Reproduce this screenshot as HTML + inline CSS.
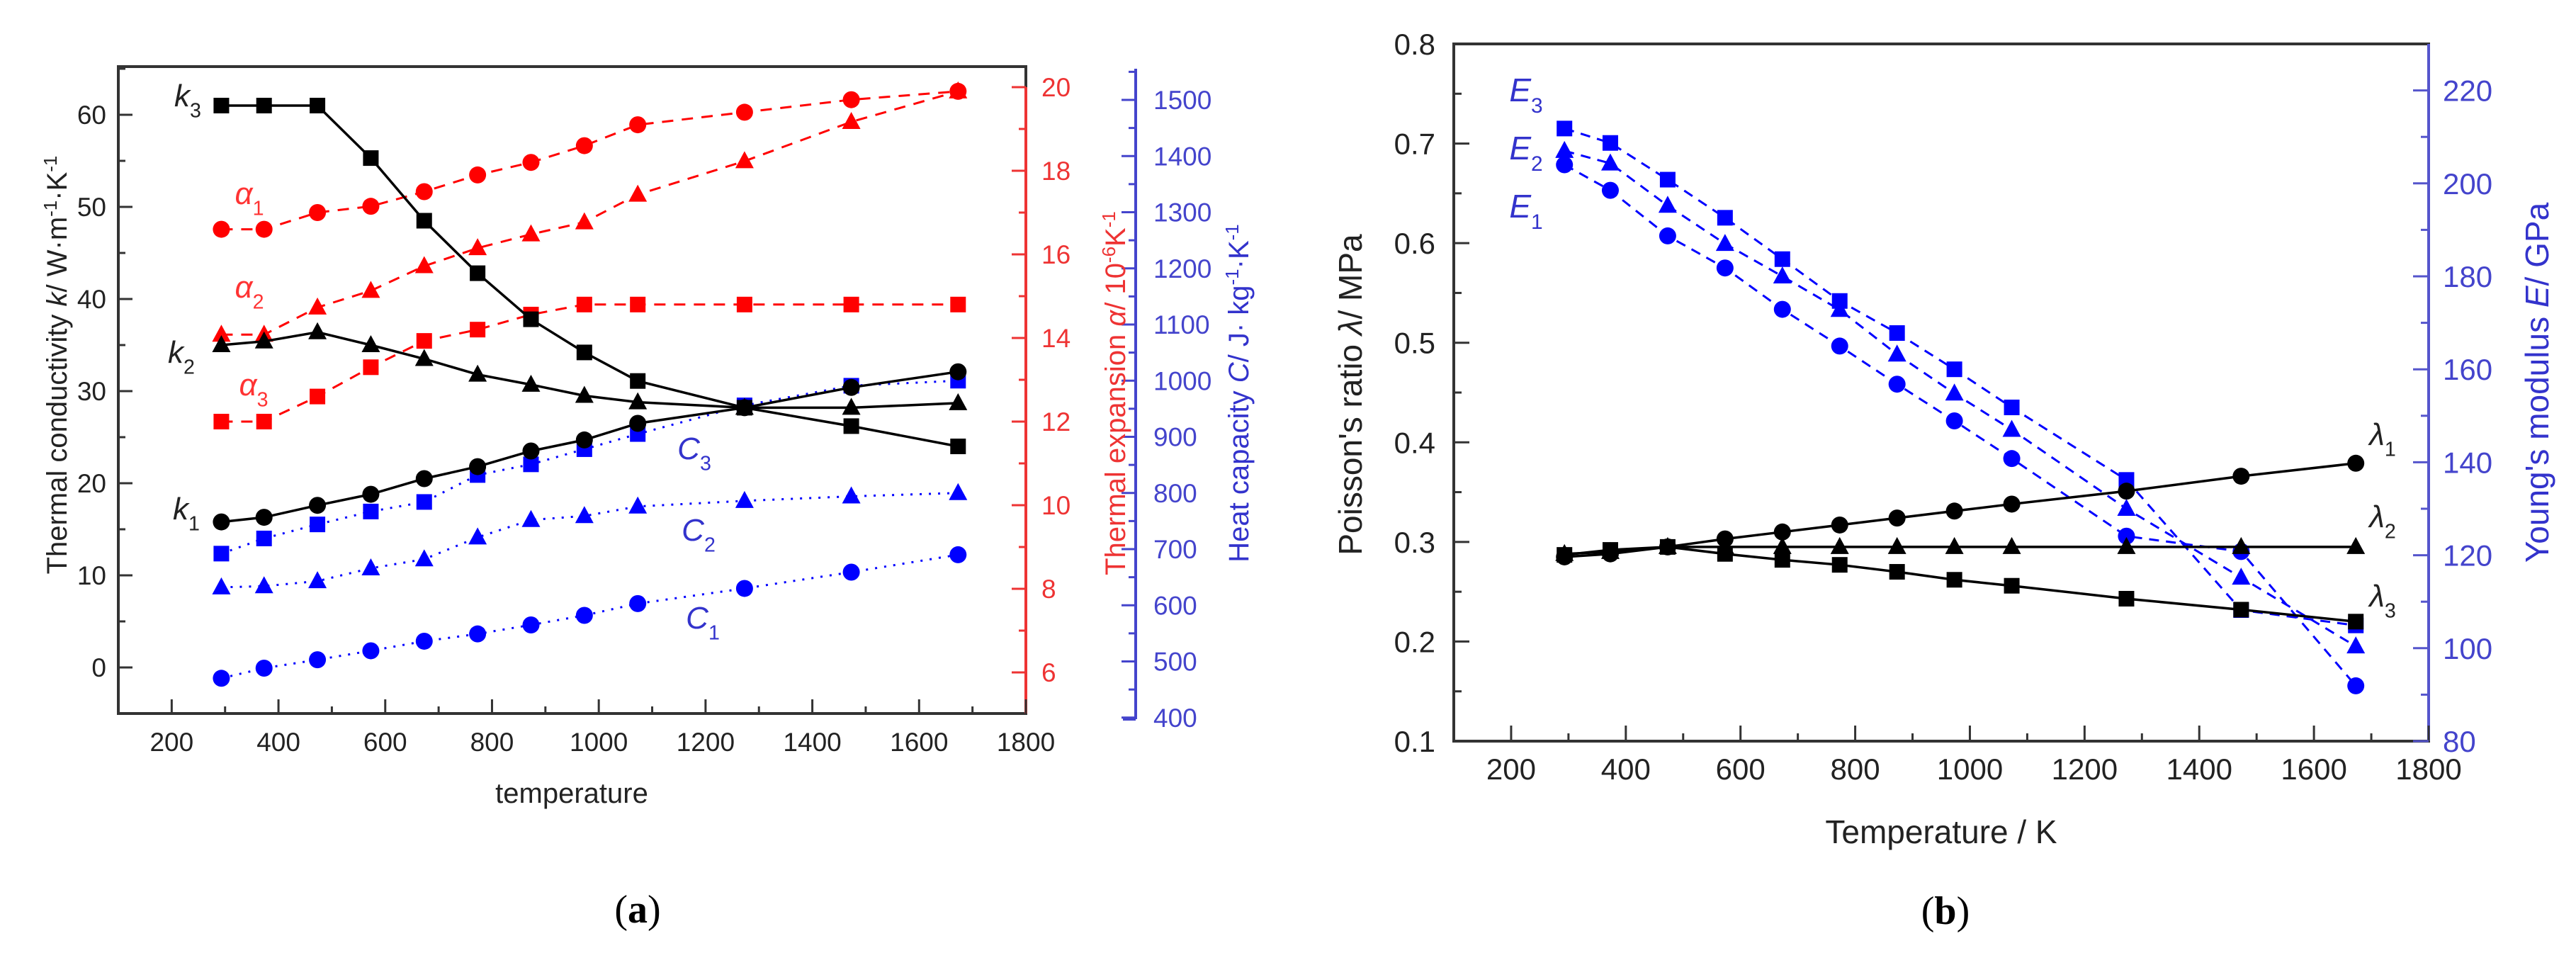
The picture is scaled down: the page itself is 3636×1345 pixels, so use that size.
<!DOCTYPE html>
<html><head><meta charset="utf-8">
<style>
html,body{margin:0;padding:0;background:#fff;}
svg{display:block;font-family:"Liberation Sans",Arial,sans-serif;}
</style></head>
<body>
<svg id="fig" width="3636" height="1345" viewBox="0 0 3636 1345" xmlns="http://www.w3.org/2000/svg">
<g id="pa"></g>
<g id="pb"></g>
</svg>
<script>
// ---------- shared data ----------
const temps = [293,373,473,573,673,773,873,973,1073,1273,1473,1673];
// panel a
const k1 = [15.8,16.3,17.6,18.8,20.5,21.8,23.5,24.7,26.5,28.2,30.4,32.1];
const k2 = [35,35.4,36.4,35,33.5,31.8,30.7,29.5,28.8,28.2,28.2,28.7];
const k3 = [61,61,61,55.3,48.5,42.8,37.8,34.2,31.1,28.2,26.2,24];
const a1 = [16.6,16.6,17.0,17.15,17.5,17.9,18.2,18.6,19.1,19.4,19.7,19.9];
const a2 = [14.08,14.08,14.73,15.13,15.72,16.15,16.48,16.77,17.43,18.23,19.17,19.9];
const a3 = [12.0,12.0,12.6,13.3,13.93,14.2,14.56,14.8,14.8,14.8,14.8,14.8];
const c1 = [470,488,503,519,536,549,565,582,603,630,659,690];
const c2 = [632,634,643,666,682,721,752,759,776,786,794,800];
const c3 = [692,719,744,767,784,832,851,878,905,956,991,1000];
const xTicksA = [200,400,600,800,1000,1200,1400,1600,1800];
const kTicks = [0,10,20,30,40,50,60];
const aTicks = [6,8,10,12,14,16,18,20];
const cTicks = [400,500,600,700,800,900,1000,1100,1200,1300,1400,1500];
// panel b
const lam1 = [0.285,0.288,0.295,0.303,0.310,0.317,0.324,0.331,0.338,0.351,0.366,0.379];
const lam2 = [0.288,0.290,0.295,0.295,0.295,0.295,0.295,0.295,0.295,0.295,0.295,0.295];
const lam3 = [0.287,0.292,0.295,0.288,0.282,0.277,0.270,0.262,0.256,0.243,0.232,0.220];
const e1 = [204,198.5,188.7,181.8,172.9,165,156.8,148.9,140.8,124.1,120.8,91.9];
const e2 = [207,204.3,195.2,187,180,172.8,163.2,154.8,147,130,115.2,100.4];
const e3 = [211.8,208.7,200.8,192.6,183.7,174.7,167.8,160.0,151.8,136.2,108.2,104.9];
const xTicksB = [200,400,600,800,1000,1200,1400,1600,1800];
const lTicks = [0.1,0.2,0.3,0.4,0.5,0.6,0.7,0.8];
const eTicks = [80,100,120,140,160,180,200,220];

const NS="http://www.w3.org/2000/svg";
function mk(parent,tag,attrs,text){const e=document.createElementNS(NS,tag);for(const k in attrs)e.setAttribute(k,attrs[k]);if(text!==undefined)e.textContent=text;parent.appendChild(e);return e;}

// axis functions
const axA={x0:167,x1:1448,y0:94,y1:1007};
const xA=v=>axA.x0+(v-100)*(axA.x1-axA.x0)/1700;
const yK=v=>942-13*v;
const yAl=v=>123+(20-v)*59;
const yC=v=>141+(1500-v)*0.7925;
const axB={x0:2052,x1:3428,y0:62,y1:1046};
const xB=v=>axB.x0+(v-100)*(axB.x1-axB.x0)/1700;
const yL=v=>axB.y0+(0.8-v)*(axB.y1-axB.y0)/0.7;
const yE=v=>axB.y1-(v-80)*(axB.y1-axB.y0)/150;

function marker(g,shape,x,y,color,name){
  let m;
  if(shape==='sq') m=mk(g,'rect',{x:x-11,y:y-11,width:22,height:22,fill:color});
  else if(shape==='ci') m=mk(g,'circle',{cx:x,cy:y,r:12,fill:color});
  else m=mk(g,'polygon',{points:`${x},${y-14} ${x-13},${y+10} ${x+13},${y+10}`,fill:color});
  
  
}
function series(g,vals,xf,yf,shape,color,dash,w,name){
  const sg=mk(g,'g',{});
  
  
  const pts=temps.map((t,i)=>xf(t)+','+yf(vals[i])).join(' ');
  const pl=mk(sg,'polyline',{points:pts,fill:'none',stroke:color,'stroke-width':w,'stroke-dasharray':dash});
  
  
  temps.forEach((t,i)=>marker(sg,shape,xf(t),yf(vals[i]),color,name+'-point'));
}
function label(g,x,y,main,sub,color,size,name,italic){
  const t=mk(g,'text',{x:x,y:y,fill:color,'font-size':size,'font-style':italic?'italic':'normal','text-anchor':'middle'});
  
  
  mk(t,'tspan',{},main);
  mk(t,'tspan',{dy:size*0.35,'font-size':size*0.65,'font-style':'normal'},sub);
}

// ---------- panel a ----------
const ga=document.getElementById('pa');
mk(ga,'rect',{x:axA.x0,y:axA.y0,width:axA.x1-axA.x0,height:axA.y1-axA.y0,fill:'none',stroke:'#333','stroke-width':4});
mk(ga,'line',{x1:axA.x1,y1:yAl(20),x2:axA.x1,y2:axA.y1,stroke:'#e33','stroke-width':4});
mk(ga,'line',{x1:1603,y1:97,x2:1603,y2:1015,stroke:'#44c','stroke-width':4});
mk(ga,'line',{x1:1585,y1:1015,x2:1603,y2:1015,stroke:'#44c','stroke-width':4});
let t;
xTicksA.forEach(v=>{t=mk(ga,'text',{x:xA(v),y:1060,'font-size':37,fill:'#222','text-anchor':'middle'},String(v));
  mk(ga,'line',{x1:xA(v),y1:axA.y1,x2:xA(v),y2:axA.y1-20,stroke:'#333','stroke-width':3});
  if(v<1800) mk(ga,'line',{x1:xA(v+100),y1:axA.y1,x2:xA(v+100),y2:axA.y1-10,stroke:'#333','stroke-width':3});});
kTicks.forEach(v=>{t=mk(ga,'text',{x:150,y:yK(v)+13,'font-size':37,fill:'#222','text-anchor':'end'},String(v));
  mk(ga,'line',{x1:axA.x0,y1:yK(v),x2:axA.x0+20,y2:yK(v),stroke:'#333','stroke-width':3});
  mk(ga,'line',{x1:axA.x0,y1:yK(v+5),x2:axA.x0+10,y2:yK(v+5),stroke:'#333','stroke-width':3});});
aTicks.forEach(v=>{t=mk(ga,'text',{x:1470,y:yAl(v)+13,'font-size':37,fill:'#e33'},String(v));
  mk(ga,'line',{x1:axA.x1,y1:yAl(v),x2:axA.x1-20,y2:yAl(v),stroke:'#e33','stroke-width':3});
  if(v<20) mk(ga,'line',{x1:axA.x1,y1:yAl(v+1),x2:axA.x1-10,y2:yAl(v+1),stroke:'#e33','stroke-width':3});});
cTicks.forEach(v=>{t=mk(ga,'text',{x:1628,y:yC(v)+13,'font-size':37,fill:'#44c'},String(v));
  mk(ga,'line',{x1:1603,y1:yC(v),x2:1583,y2:yC(v),stroke:'#44c','stroke-width':3});
  mk(ga,'line',{x1:1603,y1:yC(v+50),x2:1593,y2:yC(v+50),stroke:'#44c','stroke-width':3});});
series(ga,a1,xA,yAl,'ci','#f00','16 12',3,'alpha1-series');
series(ga,a2,xA,yAl,'tr','#f00','16 12',3,'alpha2-series');
series(ga,a3,xA,yAl,'sq','#f00','16 12',3,'alpha3-series');
series(ga,c1,xA,yC,'ci','#00f','3 10',3,'c1-series');
series(ga,c2,xA,yC,'tr','#00f','3 10',3,'c2-series');
series(ga,c3,xA,yC,'sq','#00f','3 10',3,'c3-series');
series(ga,k1,xA,yK,'ci','#000','none',3.5,'k1-series');
series(ga,k2,xA,yK,'tr','#000','none',3.5,'k2-series');
series(ga,k3,xA,yK,'sq','#000','none',3.5,'k3-series');
label(ga,265,150,'k','3','#222',44,'k3-label',true);
label(ga,256,512,'k','2','#222',44,'k2-label',true);
label(ga,263,733,'k','1','#222',44,'k1-label',true);
label(ga,352,288,'α','1','#f33',44,'alpha1-label',true);
label(ga,352,420,'α','2','#f33',44,'alpha2-label',true);
label(ga,358,558,'α','3','#f33',44,'alpha3-label',true);
label(ga,980,648,'C','3','#33c',44,'c3-label',true);
label(ga,986,763,'C','2','#33c',44,'c2-label',true);
label(ga,992,887,'C','1','#33c',44,'c1-label',true);
t=mk(ga,'text',{x:807,y:1133,'font-size':40,fill:'#222','text-anchor':'middle'},'temperature');
t=mk(ga,'text',{transform:'translate(94,515) rotate(-90)','font-size':40,fill:'#222','text-anchor':'middle'});
t.innerHTML='Thermal conductivity <tspan font-style="italic">k</tspan>/ W·m<tspan dy="-14" font-size="26">-1</tspan><tspan dy="14">·K</tspan><tspan dy="-14" font-size="26">-1</tspan>';
t=mk(ga,'text',{transform:'translate(1588,555) rotate(-90)','font-size':40,fill:'#e33','text-anchor':'middle'});
t.innerHTML='Thermal expansion <tspan font-style="italic">α</tspan>/ 10<tspan dy="-14" font-size="26">-6</tspan><tspan dy="14">K</tspan><tspan dy="-14" font-size="26">-1</tspan>';
t=mk(ga,'text',{transform:'translate(1762,555) rotate(-90)','font-size':40,fill:'#33c','text-anchor':'middle'});
t.innerHTML='Heat capacity <tspan font-style="italic">C</tspan>/ J· kg<tspan dy="-14" font-size="26">-1</tspan><tspan dy="14">·K</tspan><tspan dy="-14" font-size="26">-1</tspan>';
t=mk(ga,'text',{x:900,y:1302,'font-size':56,fill:'#000','text-anchor':'middle','font-family':'Liberation Serif, serif'});
t.innerHTML='(<tspan font-weight="bold">a</tspan>)';

// ---------- panel b ----------
const gb=document.getElementById('pb');
mk(gb,'rect',{x:axB.x0,y:axB.y0,width:axB.x1-axB.x0,height:axB.y1-axB.y0,fill:'none',stroke:'#333','stroke-width':4});
mk(gb,'line',{x1:axB.x1,y1:axB.y0,x2:axB.x1,y2:axB.y1,stroke:'#55c','stroke-width':4});
xTicksB.forEach(v=>{t=mk(gb,'text',{x:xB(v),y:1100,'font-size':42,fill:'#222','text-anchor':'middle'},String(v));
  mk(gb,'line',{x1:xB(v),y1:axB.y1,x2:xB(v),y2:axB.y1-22,stroke:'#333','stroke-width':3});
  if(v<1800) mk(gb,'line',{x1:xB(v+100),y1:axB.y1,x2:xB(v+100),y2:axB.y1-11,stroke:'#333','stroke-width':3});});
lTicks.forEach(v=>{t=mk(gb,'text',{x:2026,y:yL(v)+15,'font-size':42,fill:'#222','text-anchor':'end'},v.toFixed(1));
  mk(gb,'line',{x1:axB.x0,y1:yL(v),x2:axB.x0+22,y2:yL(v),stroke:'#333','stroke-width':3});
  if(v<0.8) mk(gb,'line',{x1:axB.x0,y1:yL(v+0.05),x2:axB.x0+11,y2:yL(v+0.05),stroke:'#333','stroke-width':3});});
eTicks.forEach(v=>{t=mk(gb,'text',{x:3448,y:yE(v)+15,'font-size':42,fill:'#44c'},String(v));
  mk(gb,'line',{x1:axB.x1,y1:yE(v),x2:axB.x1-22,y2:yE(v),stroke:'#55c','stroke-width':3});
  if(v<220) mk(gb,'line',{x1:axB.x1,y1:yE(v+10),x2:axB.x1-11,y2:yE(v+10),stroke:'#55c','stroke-width':3});});
series(gb,e1,xB,yE,'ci','#00f','14 10',3,'e1-series');
series(gb,e2,xB,yE,'tr','#00f','14 10',3,'e2-series');
series(gb,e3,xB,yE,'sq','#00f','14 10',3,'e3-series');
series(gb,lam1,xB,yL,'ci','#000','none',3.5,'lambda1-series');
series(gb,lam2,xB,yL,'tr','#000','none',3.5,'lambda2-series');
series(gb,lam3,xB,yL,'sq','#000','none',3.5,'lambda3-series');
label(gb,2154,143,'E','3','#33c',46,'e3-label',true);
label(gb,2154,225,'E','2','#33c',46,'e2-label',true);
label(gb,2154,307,'E','1','#33c',46,'e1-label',true);
label(gb,3363,628,'λ','1','#222',44,'lambda1-label',true);
label(gb,3363,744,'λ','2','#222',44,'lambda2-label',true);
label(gb,3363,856,'λ','3','#222',44,'lambda3-label',true);
t=mk(gb,'text',{x:2740,y:1190,'font-size':46,fill:'#222','text-anchor':'middle'},'Temperature / K');
t=mk(gb,'text',{transform:'translate(1922,557) rotate(-90)','font-size':46,fill:'#222','text-anchor':'middle'});
t.innerHTML='Poisson\'s ratio <tspan font-style="italic">λ</tspan>/ MPa';
t=mk(gb,'text',{transform:'translate(3597,540) rotate(-90)','font-size':46,fill:'#33c','text-anchor':'middle'});
t.innerHTML='Young\'s modulus <tspan font-style="italic">E</tspan>/ GPa';
t=mk(gb,'text',{x:2746,y:1304,'font-size':56,fill:'#000','text-anchor':'middle','font-family':'Liberation Serif, serif'});
t.innerHTML='(<tspan font-weight="bold">b</tspan>)';
</script>
</body></html>
